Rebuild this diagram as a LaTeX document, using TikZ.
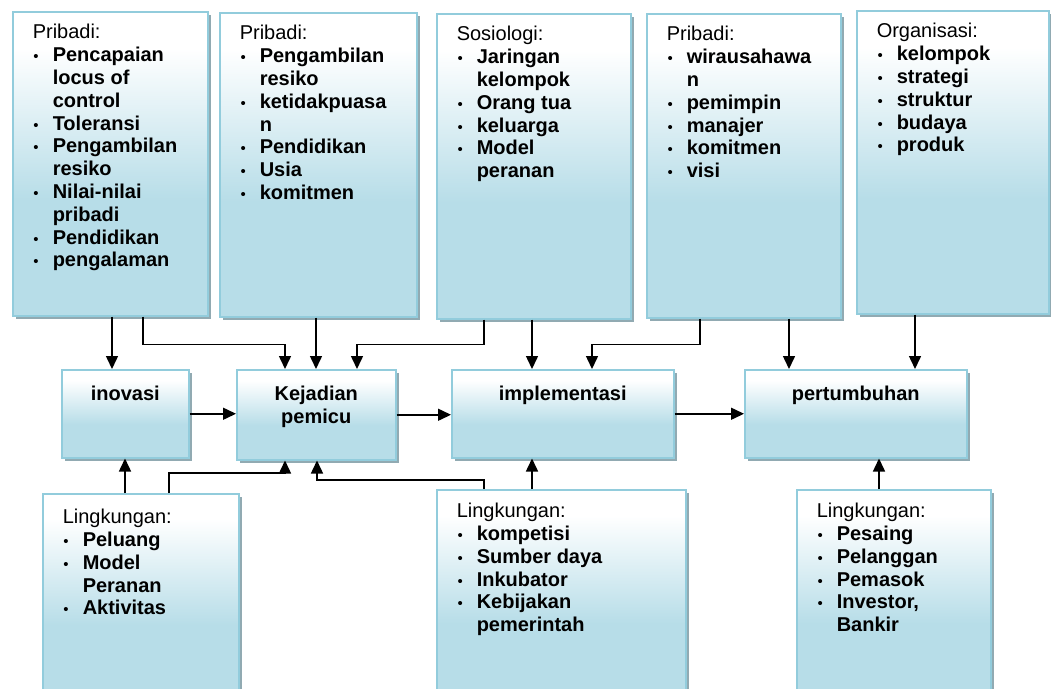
\documentclass[tikz,border=0pt]{standalone}
\usepackage{fontspec}
\setmainfont{Liberation Sans}
\usetikzlibrary{arrows.meta,shadows}

\definecolor{birukotak}{RGB}{183,221,232}
\definecolor{garistepi}{RGB}{146,204,220}
\definecolor{bayang}{RGB}{145,170,178}

\pgfdeclareverticalshading{kotakshade}{100bp}{color(0bp)=(birukotak); color(25bp)=(birukotak); color(44bp)=(birukotak); color(69bp)=(white); color(100bp)=(white)}

\newenvironment{butir}{\begin{list}{\mdseries\fontsize{15}{15}\selectfont\textbullet}{\setlength{\leftmargin}{20pt}\setlength{\labelwidth}{6pt}\setlength{\labelsep}{14pt}\setlength{\itemsep}{0pt}\setlength{\parsep}{0pt}\setlength{\topsep}{0pt}\setlength{\partopsep}{0pt}}\bfseries}{\end{list}}
\newcommand{\isikotak}[4]{\parbox[t][#2pt][t]{#1pt}{\raggedright\vspace*{#3pt}#4}}

\begin{document}
\begin{tikzpicture}[x=1pt,y=-1pt,font=\fontsize{20}{22.8}\selectfont,
	kotak/.style={draw=garistepi,line width=1.5pt,shade,shading=kotakshade,drop shadow={shadow xshift=3pt,shadow yshift=-3pt,fill=bayang,opacity=1},anchor=north west,inner xsep=20pt,inner ysep=0pt},
	panah/.style={line width=1.5pt,-{Triangle[length=13pt,width=12pt]}}]
	\useasboundingbox (0,0) rectangle (1051,688);
	\clip (0,0) rectangle (1051,688);
	%\draw (0,0) -- (1051,0);
	% kotak atas
	\node[kotak] (pribadiA) at (12,11) {\isikotak{155}{304}{12.7}{Pribadi:
		\begin{butir}\item Pencapaian\\locus of\\control \item Toleransi \item Pengambilan\\resiko \item Nilai-nilai\\pribadi \item Pendidikan \item pengalaman\end{butir}}};
	\node[kotak] (pribadiB) at (219,12) {\isikotak{157}{304}{12.7}{Pribadi:
		\begin{butir}\item Pengambilan\\resiko \item ketidakpuasa\\n \item Pendidikan \item Usia \item komitmen\end{butir}}};
	\node[kotak] (sosiologi) at (436,13) {\isikotak{154}{305}{12.7}{Sosiologi:
		\begin{butir}\item Jaringan\\kelompok \item Orang tua \item keluarga \item Model\\peranan\end{butir}}};
	\node[kotak] (pribadiC) at (646,13) {\isikotak{154}{304}{12.7}{Pribadi:
		\begin{butir}\item wirausahawa\\n \item pemimpin \item manajer \item komitmen \item visi\end{butir}}};
	\node[kotak] (organisasi) at (856,10) {\isikotak{152}{303}{12.7}{Organisasi:
		\begin{butir}\item kelompok \item strategi \item struktur \item budaya \item produk\end{butir}}};
	% kotak tengah
	\node[kotak] (inovasi) at (61,369) {\isikotak{87}{88}{16}{\centering\bfseries inovasi}};
	\node[kotak] (kejadian) at (236,369) {\isikotak{119}{90}{16}{\centering\bfseries Kejadian\\pemicu}};
	\node[kotak] (implementasi) at (451,369) {\isikotak{182}{88}{16}{\centering\bfseries implementasi}};
	\node[kotak] (pertumbuhan) at (744,369) {\isikotak{182}{88}{16}{\centering\bfseries pertumbuhan}};
	% kotak bawah
	\node[kotak] (lingkunganA) at (42,493) {\isikotak{156}{212}{15.5}{Lingkungan:
		\begin{butir}\item Peluang \item Model\\Peranan \item Aktivitas\end{butir}}};
	\node[kotak] (lingkunganB) at (436,489) {\isikotak{209}{216}{13.5}{Lingkungan:
		\begin{butir}\item kompetisi \item Sumber daya \item Inkubator \item Kebijakan\\pemerintah\end{butir}}};
	\node[kotak] (lingkunganC) at (796,489) {\isikotak{154}{216}{13.5}{Lingkungan:
		\begin{butir}\item Pesaing \item Pelanggan \item Pemasok \item Investor,\\Bankir\end{butir}}};
	% titik
	\path ([xshift=100pt]pribadiA.south west) coordinate (a1)
		([xshift=131pt]pribadiA.south west) coordinate (a2)
		([xshift=97pt]pribadiB.south west) coordinate (b1)
		([xshift=48pt]sosiologi.south west) coordinate (c1)
		([xshift=96pt]sosiologi.south west) coordinate (c2)
		([xshift=54pt]pribadiC.south west) coordinate (d1)
		([xshift=143pt]pribadiC.south west) coordinate (d2)
		([xshift=59pt]organisasi.south west) coordinate (e1)
		([xshift=83pt]lingkunganA.north west) coordinate (l1)
		([xshift=127pt]lingkunganA.north west) coordinate (l2)
		([xshift=48pt]lingkunganB.north west) coordinate (m1)
		([xshift=96pt]lingkunganB.north west) coordinate (m2)
		([xshift=83pt]lingkunganC.north west) coordinate (n1)
		([xshift=49pt]kejadian.north west) coordinate (k1)
		([xshift=121pt]kejadian.north west) coordinate (k3)
		([xshift=49pt]kejadian.south west) coordinate (k5)
		([xshift=81pt]kejadian.south west) coordinate (k6)
		([xshift=141pt]implementasi.north west) coordinate (i1);
	% panah
	\draw[panah] (a1) -- (a1 |- inovasi.north);
	\draw[panah] (a2) -- ++(0,28) -| (k1);
	\draw[panah] (b1) -- (b1 |- kejadian.north);
	\draw[panah] (c1) -- ++(0,25) -| (k3);
	\draw[panah] (c2) -- (c2 |- implementasi.north);
	\draw[panah] (d1) -- ++(0,26) -| (i1);
	\draw[panah] (d2) -- (d2 |- pertumbuhan.north);
	\draw[panah] (e1) -- (e1 |- pertumbuhan.north);
	\draw[panah] (inovasi.east) -- (inovasi.east -| kejadian.west);
	\draw[panah] (kejadian.east) -- (kejadian.east -| implementasi.west);
	\draw[panah] (implementasi.east) -- (implementasi.east -| pertumbuhan.west);
	\draw[panah] (l1) -- (l1 |- inovasi.south);
	\draw[panah] (l2) -- ++(0,-20) -| (k5);
	\draw[panah] (m1) -- ++(0,-9) -| (k6);
	\draw[panah] (m2) -- (m2 |- implementasi.south);
	\draw[panah] (n1) -- (n1 |- pertumbuhan.south);
\end{tikzpicture}
\end{document}
